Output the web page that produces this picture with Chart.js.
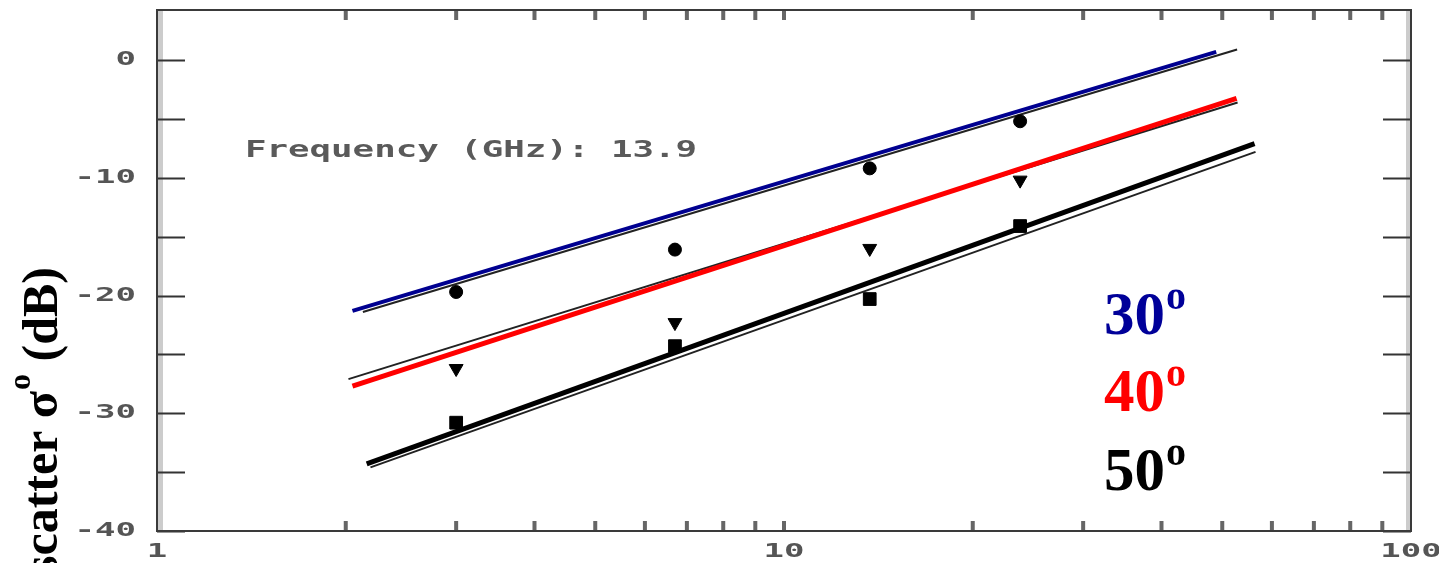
<!DOCTYPE html>
<html>
<head>
<meta charset="utf-8">
<script src="https://cdn.jsdelivr.net/npm/chart.js@4"></script>
<style>
  html, body { margin: 0; padding: 0; background: #fff; }
  canvas { display: block; }
</style>
</head>
<body>
<canvas id="chartBackscatter" width="1439" height="563"></canvas>
<script>
// Measured points (x on log axis)
const xMeas = [3, 6.7, 13.7, 23.8];
const sigma30 = [-19.7, -16.1, -9.2, -5.2];
const sigma40 = [-26.2, -22.3, -16.0, -10.2];
const sigma50 = [-30.8, -24.3, -20.3, -14.1];

// Fitted lines (coloured overlay), start / end
const fitX30 = [2.05, 48.9];
const fitY30 = [-21.3, 0.7];
const fitX40 = [2.05, 52.7];
const fitY40 = [-27.7, -3.25];
const fitX50 = [2.16, 56.3];
const fitY50 = [-34.3, -7.1];

// Original thin black regression lines underneath
const origX30 = [2.13, 52.8];
const origY30 = [-21.4, 0.9];
const origX40 = [2.02, 52.9];
const origY40 = [-27.1, -3.6];
const origX50 = [2.19, 56.5];
const origY50 = [-34.6, -7.8];

// Axes
const yTicks = [-40, -35, -30, -25, -20, -15, -10, -5, 0];
const yLabelTicks = [-40, -30, -20, -10, 0];
const xLabelTicks = [1, 10, 100];
const xMinorTicks = [2, 3, 4, 5, 6, 7, 8, 9, 10, 20, 30, 40, 50, 60, 70, 80, 90];

const angleLabels = ['30', '40', '50'];
const angleColors = ['#000099', '#ff0000', '#000000'];
const noteText = 'Frequency (GHz): 13.9';
const yTitleParts = ['Backscatter σ', 'o', ' (dB)'];

const pts = (xs, ys) => xs.map((x, i) => ({ x: x, y: ys[i] }));

/**
 * Draws frame, inward ticks, stretched tick labels and annotations
 */
const decorPlugin = {
    id: 'decor',
    beforeDraw(chart) {
        const ctx = chart.ctx;
        ctx.save();
        ctx.fillStyle = '#ffffff';
        ctx.fillRect(0, 0, chart.width, chart.height);
        ctx.restore();
    },
    beforeDatasetsDraw(chart) {
        const { ctx, chartArea: a, scales } = chart;
        const xs = scales.x, ys = scales.y;
        ctx.save();

        // scan-like grey bands along left / right border
        ctx.fillStyle = 'rgba(110,110,110,0.35)';
        ctx.fillRect(a.left, a.top, 6, a.bottom - a.top);
        ctx.fillRect(a.right - 5, a.top, 5, a.bottom - a.top);

        // y ticks (inward, both sides)
        ctx.strokeStyle = '#333';
        ctx.lineWidth = 2;
        yTicks.forEach(v => {
            const py = Math.round(ys.getPixelForValue(v)) + 0.5;
            ctx.beginPath();
            ctx.moveTo(a.left, py);
            ctx.lineTo(a.left + 28, py);
            ctx.moveTo(a.right, py);
            ctx.lineTo(a.right - 28, py);
            ctx.stroke();
        });

        // x minor ticks (short blocks top and bottom)
        ctx.fillStyle = '#666';
        xMinorTicks.forEach(v => {
            const px = xs.getPixelForValue(v);
            ctx.fillRect(px - 2, a.bottom - 10, 4, 10);
            ctx.fillRect(px - 2, a.top, 4, 10);
        });

        // frame
        ctx.strokeStyle = '#3a3a3a';
        ctx.lineWidth = 2;
        ctx.strokeRect(a.left, a.top, a.right - a.left, a.bottom - a.top);

        // tick labels, wide stretched mono font
        ctx.fillStyle = '#555';
        ctx.font = 'bold 20px "DejaVu Sans Mono"';
        ctx.textBaseline = 'middle';
        yLabelTicks.forEach(v => {
            const py = ys.getPixelForValue(v);
            ctx.save();
            ctx.translate(a.left - 21, py);
            ctx.scale(1.7, 1);
            ctx.textAlign = 'right';
            ctx.fillText(String(v), 0, 0);
            ctx.restore();
        });
        xLabelTicks.forEach(v => {
            const px = xs.getPixelForValue(v);
            ctx.save();
            ctx.translate(px, a.bottom + 21);
            ctx.scale(1.7, 1);
            ctx.textAlign = 'center';
            ctx.fillText(String(v), 0, 0);
            ctx.restore();
        });

        // frequency note
        ctx.save();
        ctx.font = 'bold 23px "DejaVu Sans Mono"';
        ctx.fillStyle = '#5a5a5a';
        const w = ctx.measureText(noteText).width;
        ctx.translate(245, 151);
        ctx.scale(452 / w, 1);
        ctx.textAlign = 'left';
        ctx.fillText(noteText, 0, 0);
        ctx.restore();

        ctx.restore();
    },
    afterDraw(chart) {
        const ctx = chart.ctx;
        ctx.save();

        // angle legend
        const baselines = [334, 411, 490];
        angleLabels.forEach((lab, i) => {
            ctx.fillStyle = angleColors[i];
            ctx.textAlign = 'left';
            ctx.textBaseline = 'alphabetic';
            ctx.font = 'bold 61px "Liberation Serif"';
            ctx.fillText(lab, 1104, baselines[i]);
            const dw = ctx.measureText(lab).width;
            ctx.font = 'bold 40px "Liberation Serif"';
            ctx.fillText('o', 1104 + dw + 1, baselines[i] - 25);
        });

        // y axis title (rotated, clipped by canvas bottom)
        ctx.fillStyle = '#000';
        ctx.translate(57, 267);
        ctx.rotate(-Math.PI / 2);
        ctx.textAlign = 'right';
        ctx.textBaseline = 'alphabetic';
        ctx.font = 'bold 50px "Liberation Serif"';
        const w3 = ctx.measureText(yTitleParts[2]).width;
        ctx.fillText(yTitleParts[2], 0, 0);
        ctx.font = 'bold 32px "Liberation Serif"';
        const w2 = ctx.measureText(yTitleParts[1]).width;
        ctx.fillText(yTitleParts[1], -w3, -27);
        ctx.font = 'bold 50px "Liberation Serif"';
        ctx.fillText(yTitleParts[0], -w3 - w2 - 1, 0);

        ctx.restore();
    }
};

function lineSet(data, color, width, order) {
    return {
        data: data,
        showLine: true,
        borderColor: color,
        borderWidth: width,
        pointRadius: 0,
        fill: false,
        order: order
    };
}

function markerSet(data, style, radius, rotation) {
    return {
        data: data,
        showLine: false,
        pointStyle: style,
        pointRadius: radius,
        pointRotation: rotation,
        backgroundColor: '#000',
        borderColor: '#000',
        borderWidth: 1,
        order: 0
    };
}

new Chart(document.getElementById('chartBackscatter'), {
    type: 'scatter',
    data: {
        datasets: [
            markerSet(pts(xMeas, sigma30), 'circle', 6.5, 0),
            markerSet(pts(xMeas, sigma40), 'triangle', 8, 180),
            markerSet(pts(xMeas, sigma50), 'rect', 9, 0),
            lineSet(pts(fitX30, fitY30), '#000090', 4, 1),
            lineSet(pts(fitX40, fitY40), '#ff0000', 5, 1),
            lineSet(pts(fitX50, fitY50), '#000000', 5, 1),
            lineSet(pts(origX30, origY30), '#222', 2, 2),
            lineSet(pts(origX40, origY40), '#222', 2, 2),
            lineSet(pts(origX50, origY50), '#222', 2, 2)
        ]
    },
    options: {
        responsive: false,
        animation: false,
        devicePixelRatio: 1,
        layout: { padding: { top: 10, right: 28, left: 0, bottom: 0 } },
        plugins: {
            legend: { display: false },
            tooltip: { enabled: false }
        },
        scales: {
            x: {
                type: 'logarithmic',
                min: 1,
                max: 100,
                grid: { display: false },
                border: { display: false },
                ticks: { display: false },
                afterBuildTicks: (scale) => {
                    scale.ticks = xLabelTicks.map(v => ({ value: v }));
                },
                afterFit: (scale) => { scale.height = 32; }
            },
            y: {
                type: 'linear',
                min: -40,
                max: 4.25,
                grid: { display: false },
                border: { display: false },
                ticks: { display: false },
                afterBuildTicks: (scale) => {
                    scale.ticks = yTicks.map(v => ({ value: v }));
                },
                afterFit: (scale) => { scale.width = 157; }
            }
        }
    },
    plugins: [decorPlugin]
});
</script>
</body>
</html>
